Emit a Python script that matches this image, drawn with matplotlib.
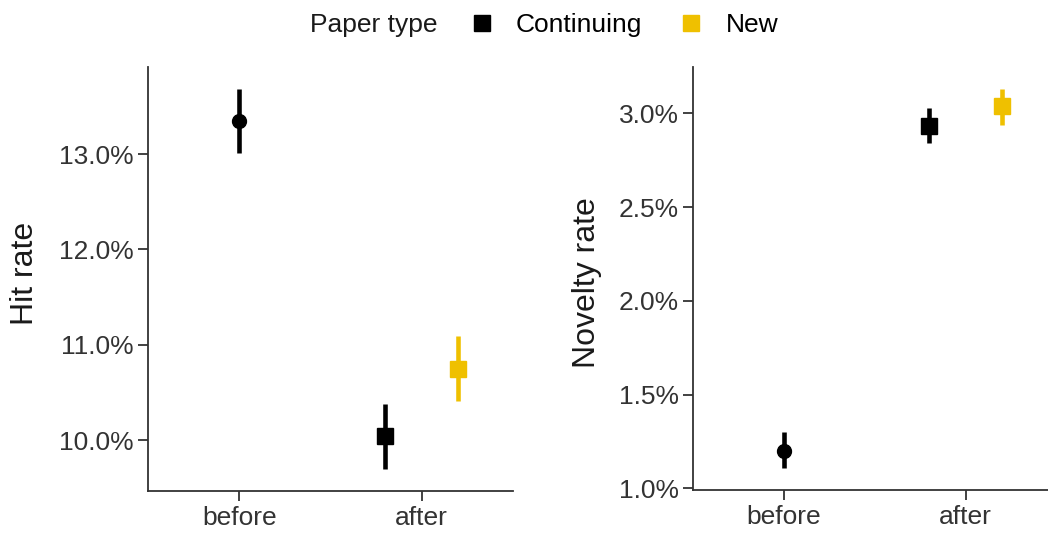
import matplotlib
matplotlib.use("Agg")
from matplotlib import pyplot as plt
from matplotlib.lines import Line2D
from matplotlib.ticker import FuncFormatter

plt.rcParams['font.family'] = ['Liberation Sans', 'DejaVu Sans']

periods = ['before', 'after']
paper_types = ['Continuing', 'New']
colors = ['#000000', '#EFC000']

# hit rate (%), mean and interval
hit_before = [13.35, 13.01, 13.68]
hit_after_cont = [10.04, 9.70, 10.38]
hit_after_new = [10.75, 10.41, 11.09]

# novelty rate (%)
nov_before = [1.20, 1.11, 1.30]
nov_after_cont = [2.93, 2.84, 3.03]
nov_after_new = [3.04, 2.94, 3.13]

hit_ticks = [10.0, 11.0, 12.0, 13.0]
nov_ticks = [1.0, 1.5, 2.0, 2.5, 3.0]

dodge = 0.2
axis_col = '#333333'


def draw_point(ax, x, vals, color, marker, ms):
    m, lo, hi = vals
    ax.vlines(x, lo, hi, color=color, lw=3.3, zorder=2)
    ax.plot([x], [m], marker=marker, color=color, ms=ms, ls='none', zorder=3)


def style(ax, ticks, ylim, label, labelx, labely):
    ax.set_xlim(-0.5, 1.5)
    ax.set_ylim(*ylim)
    ax.set_xticks([0, 1])
    ax.set_xticklabels(periods)
    ax.set_yticks(ticks)
    ax.yaxis.set_major_formatter(FuncFormatter(lambda v, p: '%.1f%%' % v))
    for s in ['top', 'right']:
        ax.spines[s].set_visible(False)
    for s in ['left', 'bottom']:
        ax.spines[s].set_color(axis_col)
        ax.spines[s].set_linewidth(1.3)
    ax.tick_params(axis='both', length=7.5, width=1.3, color=axis_col,
                   labelsize=19, labelcolor='#333333', pad=3)
    ax.set_ylabel(label, fontsize=23, color='#1a1a1a')
    ax.yaxis.set_label_coords(labelx, labely)


fig = plt.figure(figsize=(10.48, 5.37), dpi=100)
ax1 = fig.add_axes([0.1412, 0.0857, 0.3483, 0.7896])
ax2 = fig.add_axes([0.6615, 0.0875, 0.3466, 0.7877])

draw_point(ax1, 0, hit_before, colors[0], 'o', 10)
draw_point(ax1, 1 - dodge, hit_after_cont, colors[0], 's', 11)
draw_point(ax1, 1 + dodge, hit_after_new, colors[1], 's', 11)
style(ax1, hit_ticks, (9.468, 13.913), 'Hit rate', -0.296, 0.514)

draw_point(ax2, 0, nov_before, colors[0], 'o', 10)
draw_point(ax2, 1 - dodge, nov_after_cont, colors[0], 's', 11)
draw_point(ax2, 1 + dodge, nov_after_new, colors[1], 's', 11)
style(ax2, nov_ticks, (0.991, 3.247), 'Novelty rate', -0.252, 0.49)

# legend across the top
fig.text(0.296, 0.953, 'Paper type', fontsize=19, va='center', ha='left', color='#1a1a1a')
handles = [Line2D([], [], marker='s', color=c, ls='none', ms=11) for c in colors]
fig.legend(handles, paper_types, ncol=2, loc='center left', bbox_to_anchor=(0.447, 0.953),
           frameon=False, fontsize=19, handlelength=1.0, handletextpad=0.8,
           columnspacing=1.35, borderaxespad=0, borderpad=0)

fig.savefig('out.png', dpi=100)
